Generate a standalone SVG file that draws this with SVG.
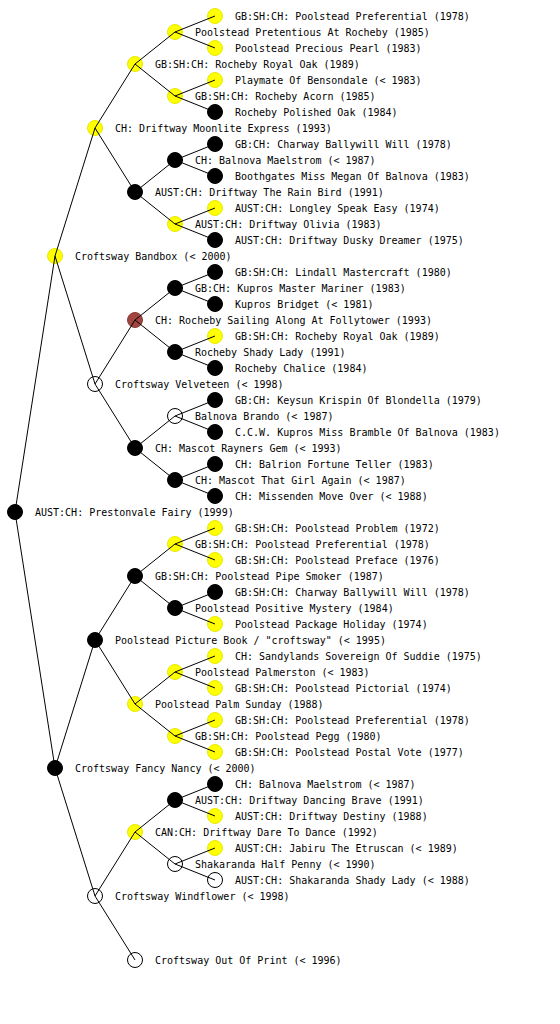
<svg xmlns="http://www.w3.org/2000/svg" width="560" height="1024" viewBox="0 0 560 1024">
<style>
text{font-family:"DejaVu Sans Mono","Liberation Mono",monospace;font-size:10px;fill:#000;}
circle{stroke-width:1;}
.y{fill:#ffff00;stroke:#e8e800;}
.b{fill:#000;stroke:#000;}
.r{fill:#a0453f;stroke:#8a3a35;}
.w{fill:#fff;stroke:#000;}
.c line{stroke:#000;stroke-width:1;}
</style>
<rect width="560" height="1024" fill="#fff"/>
<g id="nodes">
<g id="n1"><circle class="b" cx="15" cy="512" r="7.5"/><text x="35" y="516">AUST:CH: Prestonvale Fairy (1999)</text></g>
<g id="n2"><circle class="y" cx="55" cy="256" r="7.5"/><text x="75" y="260">Croftsway Bandbox (&lt; 2000)</text></g>
<g id="n3"><circle class="b" cx="55" cy="768" r="7.5"/><text x="75" y="772">Croftsway Fancy Nancy (&lt; 2000)</text></g>
<g id="n4"><circle class="y" cx="95" cy="128" r="7.5"/><text x="115" y="132">CH: Driftway Moonlite Express (1993)</text></g>
<g id="n5"><circle class="w" cx="95" cy="384" r="7.5"/><text x="115" y="388">Croftsway Velveteen (&lt; 1998)</text></g>
<g id="n6"><circle class="b" cx="95" cy="640" r="7.5"/><text x="115" y="644">Poolstead Picture Book / "croftsway" (&lt; 1995)</text></g>
<g id="n7"><circle class="w" cx="95" cy="896" r="7.5"/><text x="115" y="900">Croftsway Windflower (&lt; 1998)</text></g>
<g id="n8"><circle class="y" cx="135" cy="64" r="7.5"/><text x="155" y="68">GB:SH:CH: Rocheby Royal Oak (1989)</text></g>
<g id="n9"><circle class="b" cx="135" cy="192" r="7.5"/><text x="155" y="196">AUST:CH: Driftway The Rain Bird (1991)</text></g>
<g id="n10"><circle class="r" cx="135" cy="320" r="7.5"/><text x="155" y="324">CH: Rocheby Sailing Along At Follytower (1993)</text></g>
<g id="n11"><circle class="b" cx="135" cy="448" r="7.5"/><text x="155" y="452">CH: Mascot Rayners Gem (&lt; 1993)</text></g>
<g id="n12"><circle class="b" cx="135" cy="576" r="7.5"/><text x="155" y="580">GB:SH:CH: Poolstead Pipe Smoker (1987)</text></g>
<g id="n13"><circle class="y" cx="135" cy="704" r="7.5"/><text x="155" y="708">Poolstead Palm Sunday (1988)</text></g>
<g id="n14"><circle class="y" cx="135" cy="832" r="7.5"/><text x="155" y="836">CAN:CH: Driftway Dare To Dance (1992)</text></g>
<g id="n15"><circle class="w" cx="135" cy="960" r="7.5"/><text x="155" y="964">Croftsway Out Of Print (&lt; 1996)</text></g>
<g id="n16"><circle class="y" cx="175" cy="32" r="7.5"/><text x="195" y="36">Poolstead Pretentious At Rocheby (1985)</text></g>
<g id="n17"><circle class="y" cx="175" cy="96" r="7.5"/><text x="195" y="100">GB:SH:CH: Rocheby Acorn (1985)</text></g>
<g id="n18"><circle class="b" cx="175" cy="160" r="7.5"/><text x="195" y="164">CH: Balnova Maelstrom (&lt; 1987)</text></g>
<g id="n19"><circle class="y" cx="175" cy="224" r="7.5"/><text x="195" y="228">AUST:CH: Driftway Olivia (1983)</text></g>
<g id="n20"><circle class="b" cx="175" cy="288" r="7.5"/><text x="195" y="292">GB:CH: Kupros Master Mariner (1983)</text></g>
<g id="n21"><circle class="b" cx="175" cy="352" r="7.5"/><text x="195" y="356">Rocheby Shady Lady (1991)</text></g>
<g id="n22"><circle class="w" cx="175" cy="416" r="7.5"/><text x="195" y="420">Balnova Brando (&lt; 1987)</text></g>
<g id="n23"><circle class="b" cx="175" cy="480" r="7.5"/><text x="195" y="484">CH: Mascot That Girl Again (&lt; 1987)</text></g>
<g id="n24"><circle class="y" cx="175" cy="544" r="7.5"/><text x="195" y="548">GB:SH:CH: Poolstead Preferential (1978)</text></g>
<g id="n25"><circle class="b" cx="175" cy="608" r="7.5"/><text x="195" y="612">Poolstead Positive Mystery (1984)</text></g>
<g id="n26"><circle class="y" cx="175" cy="672" r="7.5"/><text x="195" y="676">Poolstead Palmerston (&lt; 1983)</text></g>
<g id="n27"><circle class="y" cx="175" cy="736" r="7.5"/><text x="195" y="740">GB:SH:CH: Poolstead Pegg (1980)</text></g>
<g id="n28"><circle class="b" cx="175" cy="800" r="7.5"/><text x="195" y="804">AUST:CH: Driftway Dancing Brave (1991)</text></g>
<g id="n29"><circle class="w" cx="175" cy="864" r="7.5"/><text x="195" y="868">Shakaranda Half Penny (&lt; 1990)</text></g>
<g id="n30"><circle class="y" cx="215" cy="16" r="7.5"/><text x="235" y="20">GB:SH:CH: Poolstead Preferential (1978)</text></g>
<g id="n31"><circle class="y" cx="215" cy="48" r="7.5"/><text x="235" y="52">Poolstead Precious Pearl (1983)</text></g>
<g id="n32"><circle class="y" cx="215" cy="80" r="7.5"/><text x="235" y="84">Playmate Of Bensondale (&lt; 1983)</text></g>
<g id="n33"><circle class="b" cx="215" cy="112" r="7.5"/><text x="235" y="116">Rocheby Polished Oak (1984)</text></g>
<g id="n34"><circle class="b" cx="215" cy="144" r="7.5"/><text x="235" y="148">GB:CH: Charway Ballywill Will (1978)</text></g>
<g id="n35"><circle class="b" cx="215" cy="176" r="7.5"/><text x="235" y="180">Boothgates Miss Megan Of Balnova (1983)</text></g>
<g id="n36"><circle class="y" cx="215" cy="208" r="7.5"/><text x="235" y="212">AUST:CH: Longley Speak Easy (1974)</text></g>
<g id="n37"><circle class="b" cx="215" cy="240" r="7.5"/><text x="235" y="244">AUST:CH: Driftway Dusky Dreamer (1975)</text></g>
<g id="n38"><circle class="b" cx="215" cy="272" r="7.5"/><text x="235" y="276">GB:SH:CH: Lindall Mastercraft (1980)</text></g>
<g id="n39"><circle class="b" cx="215" cy="304" r="7.5"/><text x="235" y="308">Kupros Bridget (&lt; 1981)</text></g>
<g id="n40"><circle class="y" cx="215" cy="336" r="7.5"/><text x="235" y="340">GB:SH:CH: Rocheby Royal Oak (1989)</text></g>
<g id="n41"><circle class="b" cx="215" cy="368" r="7.5"/><text x="235" y="372">Rocheby Chalice (1984)</text></g>
<g id="n42"><circle class="b" cx="215" cy="400" r="7.5"/><text x="235" y="404">GB:CH: Keysun Krispin Of Blondella (1979)</text></g>
<g id="n43"><circle class="b" cx="215" cy="432" r="7.5"/><text x="235" y="436">C.C.W. Kupros Miss Bramble Of Balnova (1983)</text></g>
<g id="n44"><circle class="b" cx="215" cy="464" r="7.5"/><text x="235" y="468">CH: Balrion Fortune Teller (1983)</text></g>
<g id="n45"><circle class="b" cx="215" cy="496" r="7.5"/><text x="235" y="500">CH: Missenden Move Over (&lt; 1988)</text></g>
<g id="n46"><circle class="y" cx="215" cy="528" r="7.5"/><text x="235" y="532">GB:SH:CH: Poolstead Problem (1972)</text></g>
<g id="n47"><circle class="y" cx="215" cy="560" r="7.5"/><text x="235" y="564">GB:SH:CH: Poolstead Preface (1976)</text></g>
<g id="n48"><circle class="b" cx="215" cy="592" r="7.5"/><text x="235" y="596">GB:SH:CH: Charway Ballywill Will (1978)</text></g>
<g id="n49"><circle class="y" cx="215" cy="624" r="7.5"/><text x="235" y="628">Poolstead Package Holiday (1974)</text></g>
<g id="n50"><circle class="y" cx="215" cy="656" r="7.5"/><text x="235" y="660">CH: Sandylands Sovereign Of Suddie (1975)</text></g>
<g id="n51"><circle class="y" cx="215" cy="688" r="7.5"/><text x="235" y="692">GB:SH:CH: Poolstead Pictorial (1974)</text></g>
<g id="n52"><circle class="y" cx="215" cy="720" r="7.5"/><text x="235" y="724">GB:SH:CH: Poolstead Preferential (1978)</text></g>
<g id="n53"><circle class="y" cx="215" cy="752" r="7.5"/><text x="235" y="756">GB:SH:CH: Poolstead Postal Vote (1977)</text></g>
<g id="n54"><circle class="b" cx="215" cy="784" r="7.5"/><text x="235" y="788">CH: Balnova Maelstrom (&lt; 1987)</text></g>
<g id="n55"><circle class="y" cx="215" cy="816" r="7.5"/><text x="235" y="820">AUST:CH: Driftway Destiny (1988)</text></g>
<g id="n56"><circle class="y" cx="215" cy="848" r="7.5"/><text x="235" y="852">AUST:CH: Jabiru The Etruscan (&lt; 1989)</text></g>
<g id="n57"><circle class="w" cx="215" cy="880" r="7.5"/><text x="235" y="884">AUST:CH: Shakaranda Shady Lady (&lt; 1988)</text></g>
</g>
<g id="connectors" class="c">
<line x1="15" y1="512" x2="55" y2="256"/><line x1="15" y1="512" x2="55" y2="768"/>
<line x1="55" y1="256" x2="95" y2="128"/><line x1="55" y1="256" x2="95" y2="384"/>
<line x1="55" y1="768" x2="95" y2="640"/><line x1="55" y1="768" x2="95" y2="896"/>
<line x1="95" y1="128" x2="135" y2="64"/><line x1="95" y1="128" x2="135" y2="192"/>
<line x1="95" y1="384" x2="135" y2="320"/><line x1="95" y1="384" x2="135" y2="448"/>
<line x1="95" y1="640" x2="135" y2="576"/><line x1="95" y1="640" x2="135" y2="704"/>
<line x1="95" y1="896" x2="135" y2="832"/><line x1="95" y1="896" x2="135" y2="960"/>
<line x1="135" y1="64" x2="175" y2="32"/><line x1="135" y1="64" x2="175" y2="96"/>
<line x1="135" y1="192" x2="175" y2="160"/><line x1="135" y1="192" x2="175" y2="224"/>
<line x1="135" y1="320" x2="175" y2="288"/><line x1="135" y1="320" x2="175" y2="352"/>
<line x1="135" y1="448" x2="175" y2="416"/><line x1="135" y1="448" x2="175" y2="480"/>
<line x1="135" y1="576" x2="175" y2="544"/><line x1="135" y1="576" x2="175" y2="608"/>
<line x1="135" y1="704" x2="175" y2="672"/><line x1="135" y1="704" x2="175" y2="736"/>
<line x1="135" y1="832" x2="175" y2="800"/><line x1="135" y1="832" x2="175" y2="864"/>
<line x1="175" y1="32" x2="215" y2="16"/><line x1="175" y1="32" x2="215" y2="48"/>
<line x1="175" y1="96" x2="215" y2="80"/><line x1="175" y1="96" x2="215" y2="112"/>
<line x1="175" y1="160" x2="215" y2="144"/><line x1="175" y1="160" x2="215" y2="176"/>
<line x1="175" y1="224" x2="215" y2="208"/><line x1="175" y1="224" x2="215" y2="240"/>
<line x1="175" y1="288" x2="215" y2="272"/><line x1="175" y1="288" x2="215" y2="304"/>
<line x1="175" y1="352" x2="215" y2="336"/><line x1="175" y1="352" x2="215" y2="368"/>
<line x1="175" y1="416" x2="215" y2="400"/><line x1="175" y1="416" x2="215" y2="432"/>
<line x1="175" y1="480" x2="215" y2="464"/><line x1="175" y1="480" x2="215" y2="496"/>
<line x1="175" y1="544" x2="215" y2="528"/><line x1="175" y1="544" x2="215" y2="560"/>
<line x1="175" y1="608" x2="215" y2="592"/><line x1="175" y1="608" x2="215" y2="624"/>
<line x1="175" y1="672" x2="215" y2="656"/><line x1="175" y1="672" x2="215" y2="688"/>
<line x1="175" y1="736" x2="215" y2="720"/><line x1="175" y1="736" x2="215" y2="752"/>
<line x1="175" y1="800" x2="215" y2="784"/><line x1="175" y1="800" x2="215" y2="816"/>
<line x1="175" y1="864" x2="215" y2="848"/><line x1="175" y1="864" x2="215" y2="880"/>
</g>
</svg>
